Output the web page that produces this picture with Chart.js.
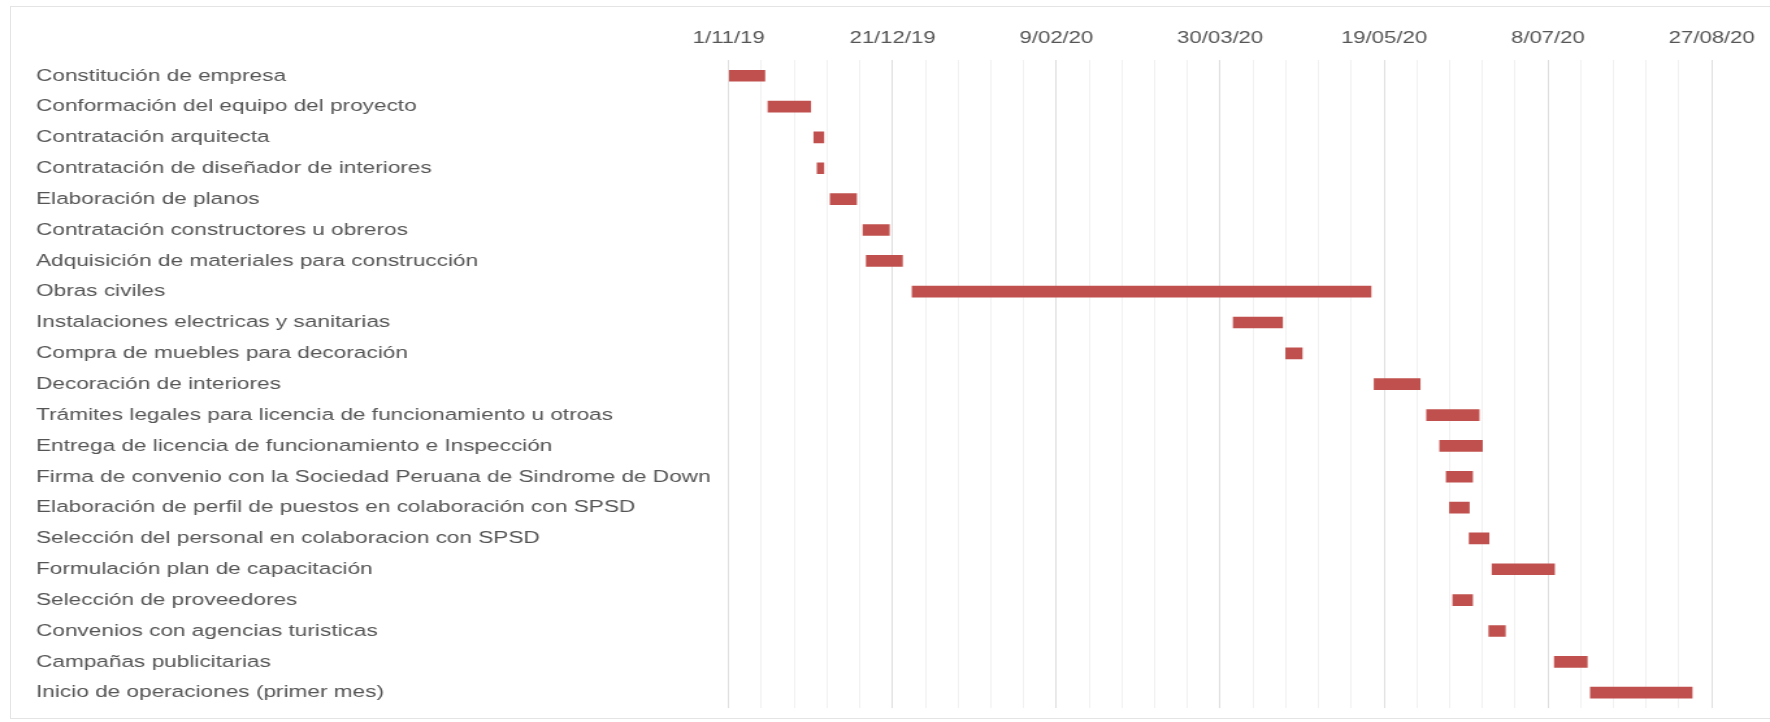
<!DOCTYPE html>
<html>
<head>
<meta charset="utf-8">
<script src="https://cdn.jsdelivr.net/npm/chart.js@4.4.1/dist/chart.umd.min.js"></script>
<style>
  html, body { margin: 0; padding: 0; background: #ffffff; width: 1770px; height: 722px; overflow: hidden; }
  #frame { position: absolute; left: 10px; top: 6px; width: 1775px; height: 713px; border: 1px solid #e4e4e4; box-sizing: border-box; }
  #c { position: absolute; left: 0; top: 0; }
</style>
</head>
<body>
<div id="frame"></div>
<canvas id="c" width="1362" height="722" style="width:1770px !important;height:722px !important;"></canvas>
<script>
// ---- data ----
const tasks = [
  'Constitución de empresa',
  'Conformación del equipo del proyecto',
  'Contratación arquitecta',
  'Contratación de diseñador de interiores',
  'Elaboración de planos',
  'Contratación constructores u obreros',
  'Adquisición de materiales para construcción',
  'Obras civiles',
  'Instalaciones electricas y sanitarias',
  'Compra de muebles para decoración',
  'Decoración de interiores',
  'Trámites legales para licencia de funcionamiento u otroas',
  'Entrega de licencia de funcionamiento e Inspección',
  'Firma de convenio con la Sociedad Peruana de Sindrome de Down',
  'Elaboración de perfil de puestos en colaboración con SPSD',
  'Selección del personal en colaboracion con SPSD',
  'Formulación plan de capacitación',
  'Selección de proveedores',
  'Convenios con agencias turisticas',
  'Campañas publicitarias',
  'Inicio de operaciones (primer mes)'
];
const startDates = [
  '1/11/19', '13/11/19', '27/11/19', '28/11/19', '2/12/19', '12/12/19', '13/12/19',
  '27/12/19', '3/04/20', '19/04/20', '16/05/20', '1/06/20', '5/06/20', '7/06/20',
  '8/06/20', '14/06/20', '21/06/20', '9/06/20', '20/06/20', '10/07/20', '21/07/20'
];
const durationDays = [11, 13, 3, 2, 8, 8, 11, 140, 15, 5, 14, 16, 13, 8, 6, 6, 19, 6, 5, 10, 31];
const axisStart = '1/11/19';
const tickLabels = ['1/11/19', '21/12/19', '9/02/20', '30/03/20', '19/05/20', '8/07/20', '27/08/20'];

// ---- helpers ----
function parseDMY(s) {
  const p = s.split('/').map(Number);
  return Date.UTC(2000 + p[2], p[1] - 1, p[0]);
}
const origin = parseDMY(axisStart);
const dayOf = s => Math.round((parseDMY(s) - origin) / 86400000);
const spans = startDates.map((s, i) => [dayOf(s), dayOf(s) + durationDays[i]]);
const axisEnd = dayOf(tickLabels[tickLabels.length - 1]);
const labelEvery = dayOf(tickLabels[1]) - dayOf(tickLabels[0]);

// horizontal stretch factor between canvas bitmap and displayed width
const K = 1770 / 1362;

new Chart(document.getElementById('c'), {
  type: 'bar',
  data: {
    labels: tasks,
    datasets: [{
      data: spans,
      backgroundColor: '#c0504d',
      borderWidth: 0,
      barThickness: 11,
      borderSkipped: false
    }]
  },
  options: {
    indexAxis: 'y',
    responsive: false,
    maintainAspectRatio: false,
    devicePixelRatio: 1,
    animation: false,
    layout: { padding: { left: 36 / K, right: 1362 - 1711.7 / K, top: 0, bottom: 722 - 708.1 } },
    plugins: { legend: { display: false }, tooltip: { enabled: false } },
    scales: {
      x: {
        type: 'linear',
        position: 'top',
        min: 0,
        max: axisEnd,
        border: { display: false },
        grid: {
          drawTicks: false,
          lineWidth: 1,
          color: ctx => (ctx.tick && ctx.tick.value % labelEvery === 0) ? '#dedede' : '#f1f1f1'
        },
        ticks: {
          stepSize: 10,
          autoSkip: false,
          maxRotation: 0,
          padding: 11.5,
          color: '#555555',
          font: { family: '"Liberation Sans", Arial, sans-serif', size: 17 },
          callback: v => (v % labelEvery === 0) ? tickLabels[v / labelEvery] : ''
        },
        afterFit: s => { s.height = 60.3; }
      },
      y: {
        border: { display: false },
        grid: { display: false, drawTicks: false },
        ticks: {
          crossAlign: 'far',
          color: '#555555',
          font: { family: '"Liberation Sans", Arial, sans-serif', size: 17.4 }
        },
        afterFit: s => { s.width = (728.7 - 36) / K; }
      }
    }
  }
});
</script>
</body>
</html>
